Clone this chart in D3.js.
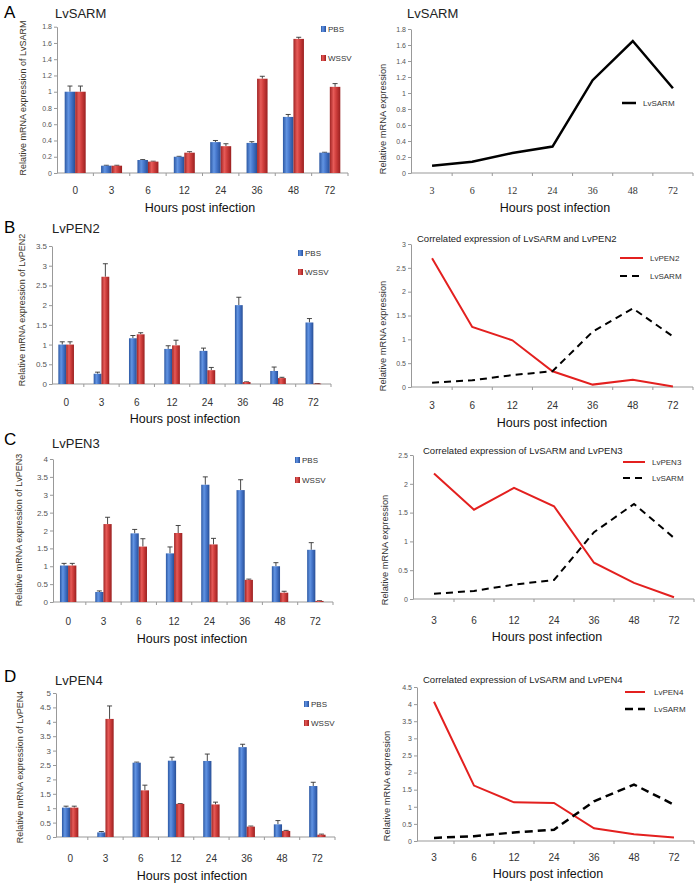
<!DOCTYPE html>
<html>
<head>
<meta charset="utf-8">
<script src="https://cdn.jsdelivr.net/npm/d3@7"></script>
<style>
  html, body { margin: 0; padding: 0; background: #fff; }
  svg { display: block; font-family: "Liberation Sans", Arial, sans-serif; }
</style>
</head>
<body>
<svg id="chart" width="699" height="884"></svg>
<script>
// ---------------- DATA ----------------
const hours = ["0", "3", "6", "12", "24", "36", "48", "72"];
const lineHours = ["3", "6", "12", "24", "36", "48", "72"];

const sarmPBS     = [1.00, 0.09, 0.16, 0.20, 0.38, 0.37, 0.69, 0.25];
const sarmPBSErr  = [0.07, 0.005, 0.005, 0.005, 0.02, 0.015, 0.03, 0.005];
const sarmWSSV    = [1.00, 0.09, 0.14, 0.25, 0.33, 1.16, 1.65, 1.06];
const sarmWSSVErr = [0.07, 0.005, 0.005, 0.012, 0.03, 0.03, 0.02, 0.04];

const pen2PBS     = [1.00, 0.26, 1.16, 0.89, 0.84, 2.00, 0.33, 1.56];
const pen2PBSErr  = [0.07, 0.04, 0.07, 0.08, 0.07, 0.20, 0.10, 0.10];
const pen2WSSV    = [1.00, 2.72, 1.26, 0.98, 0.35, 0.05, 0.15, 0.01];
const pen2WSSVErr = [0.07, 0.33, 0.04, 0.13, 0.07, 0.005, 0.02, 0.003];

const pen3PBS     = [1.02, 0.28, 1.92, 1.36, 3.28, 3.13, 1.00, 1.46];
const pen3PBSErr  = [0.06, 0.03, 0.11, 0.18, 0.22, 0.29, 0.10, 0.20];
const pen3WSSV    = [1.02, 2.18, 1.55, 1.93, 1.61, 0.62, 0.26, 0.03];
const pen3WSSVErr = [0.06, 0.19, 0.22, 0.21, 0.17, 0.02, 0.04, 0.005];

const pen4PBS     = [1.02, 0.16, 2.58, 2.65, 2.64, 3.12, 0.44, 1.77];
const pen4PBSErr  = [0.05, 0.03, 0.02, 0.12, 0.24, 0.10, 0.13, 0.13];
const pen4WSSV    = [1.02, 4.10, 1.62, 1.15, 1.13, 0.36, 0.21, 0.08];
const pen4WSSVErr = [0.05, 0.45, 0.18, 0.01, 0.08, 0.02, 0.02, 0.02];

// line series (infected group from 3 h onwards)
const sarmLine = [0.09, 0.14, 0.25, 0.33, 1.16, 1.65, 1.06];
const pen2Line = [2.70, 1.26, 0.98, 0.33, 0.05, 0.15, 0.01];
const pen3Line = [2.18, 1.55, 1.93, 1.61, 0.63, 0.28, 0.03];
const pen4Line = [4.07, 1.62, 1.13, 1.11, 0.37, 0.20, 0.10];

const ticksSarm = [0, 0.2, 0.4, 0.6, 0.8, 1, 1.2, 1.4, 1.6, 1.8];
const ticks35   = [0, 0.5, 1, 1.5, 2, 2.5, 3, 3.5];
const ticks3    = [0, 0.5, 1, 1.5, 2, 2.5, 3];
const ticks4    = [0, 0.5, 1, 1.5, 2, 2.5, 3, 3.5, 4];
const ticks25   = [0, 0.5, 1, 1.5, 2, 2.5];
const ticks5    = [0, 0.5, 1, 1.5, 2, 2.5, 3, 3.5, 4, 4.5, 5];
const ticks45   = [0, 0.5, 1, 1.5, 2, 2.5, 3, 3.5, 4, 4.5];

const groupNames = ["PBS", "WSSV"];
const xTitle = "Hours post infection";

// ---------------- DRAWING ----------------
const svg = d3.select("#chart");
const defs = svg.append("defs");
function grad(id, stops) {
  const g = defs.append("linearGradient").attr("id", id)
    .attr("x1", 0).attr("x2", 1).attr("y1", 0).attr("y2", 0);
  stops.forEach(s => g.append("stop").attr("offset", s[0]).attr("stop-color", s[1]));
}
grad("gBlue", [[0, "#2c58a3"], [0.35, "#6294e2"], [0.6, "#4677cc"], [1, "#284f96"]]);
grad("gRed",  [[0, "#a02424"], [0.35, "#e65b58"], [0.6, "#cf3e3c"], [1, "#9a2020"]]);

const fmt = v => String(+v.toFixed(1));
const TICK_COL = "#555";
const AXIS_COL = "#999";

function yAxis(g, y, ticks, x, fs) {
  const ax = g.append("g").attr("transform", `translate(${x},0)`)
    .call(d3.axisLeft(y).tickValues(ticks).tickFormat(fmt).tickSize(3).tickSizeOuter(0));
  ax.select(".domain").attr("stroke", AXIS_COL);
  ax.selectAll(".tick line").attr("stroke", AXIS_COL);
  ax.selectAll(".tick text").attr("fill", TICK_COL).attr("font-size", fs)
    .attr("font-family", "Liberation Sans, Arial, sans-serif").attr("x", -5);
}

function xAxis(g, x, cats, axisX, xEnd, y0, labY, fs, family) {
  g.append("line").attr("x1", axisX).attr("x2", xEnd).attr("y1", y0).attr("y2", y0)
    .attr("stroke", AXIS_COL);
  const bounds = cats.slice(1).map(c => x(c));
  bounds.push(x(cats[cats.length - 1]) + x.bandwidth());
  g.selectAll(null).data(bounds).enter().append("line")
    .attr("x1", d => d).attr("x2", d => d).attr("y1", y0).attr("y2", y0 + 3)
    .attr("stroke", AXIS_COL);
  g.selectAll(null).data(cats).enter().append("text")
    .attr("x", d => x(d) + x.bandwidth() / 2).attr("y", labY)
    .attr("text-anchor", "middle").attr("font-size", fs).attr("fill", "#333")
    .attr("font-family", family || "Liberation Sans, Arial, sans-serif")
    .text(d => d);
}

function text(g, x, y, s, fs, opts = {}) {
  const t = g.append("text").attr("x", x).attr("y", y).attr("font-size", fs)
    .attr("fill", opts.fill || "#222").text(s);
  if (opts.anchor) t.attr("text-anchor", opts.anchor);
  if (opts.rotate) t.attr("transform", `rotate(-90,${x},${y})`);
  return t;
}

function barChart(c) {
  const g = svg.append("g");
  const x = d3.scaleBand().domain(hours).range([c.bx0, c.bx1]);
  const y = d3.scaleLinear().domain([0, c.yMax]).range([c.y0, c.yTop]);
  yAxis(g, y, c.ticks, c.axisX, c.tickFs);
  xAxis(g, x, hours, c.axisX, c.bx1, c.y0, c.labY, 10);

  const series = [
    { vals: c.pbs, errs: c.pbsErr, fill: "url(#gBlue)", off: -c.barW },
    { vals: c.wssv, errs: c.wssvErr, fill: "url(#gRed)", off: 0 }
  ];
  series.forEach(s => {
    hours.forEach((h, i) => {
      const cx = x(h) + x.bandwidth() / 2 + c.shift;
      const v = s.vals[i], e = s.errs[i];
      const bx = cx + s.off;
      const ec = bx + c.barW / 2;
      g.append("line").attr("x1", ec).attr("x2", ec).attr("y1", y(v)).attr("y2", y(v + e))
        .attr("stroke", "#333").attr("stroke-width", 0.9);
      g.append("line").attr("x1", ec - 2.5).attr("x2", ec + 2.5).attr("y1", y(v + e)).attr("y2", y(v + e))
        .attr("stroke", "#333").attr("stroke-width", 0.9);
      g.append("rect").attr("x", bx).attr("width", c.barW)
        .attr("y", y(v)).attr("height", Math.max(0.6, y(0) - y(v)))
        .attr("fill", s.fill);
    });
  });

  [[c.legY1, "url(#gBlue)", groupNames[0]], [c.legY2, "url(#gRed)", groupNames[1]]].forEach(l => {
    g.append("rect").attr("x", c.legX).attr("y", l[0] - 3).attr("width", 5).attr("height", 6).attr("fill", l[1]);
    text(g, c.legX + 7, l[0] + 3, l[2], 8, { fill: "#333" });
  });

  text(g, 4, c.letterY, c.letter, 17, { fill: "#000" });
  text(g, c.titleX, c.titleY, c.title, 13, { fill: "#222" });
  text(g, c.ylabX, c.ylabY, c.ylab, 9, { anchor: "middle", rotate: true, fill: "#3a3428" });
  text(g, c.hoursX, c.hoursY, xTitle, 12.5, { anchor: "middle", fill: "#111" });
}

function lineChart(c) {
  const g = svg.append("g");
  const x = d3.scaleBand().domain(lineHours).range([c.bx0, c.bx1]);
  const y = d3.scaleLinear().domain([0, c.yMax]).range([c.y0, c.yTop]);
  yAxis(g, y, c.ticks, c.axisX, 7);
  xAxis(g, x, lineHours, c.axisX, c.bx1, c.y0, c.labY, 10, c.labFamily);

  const line = d3.line()
    .x((d, i) => x(lineHours[i]) + x.bandwidth() / 2)
    .y(d => y(d));
  c.series.forEach(s => {
    const p = g.append("path").datum(s.vals).attr("d", line)
      .attr("fill", "none").attr("stroke", s.color).attr("stroke-width", s.w)
      .attr("stroke-linejoin", "miter");
    if (s.dash) p.attr("stroke-dasharray", s.dash);
    const lg = g.append("line").attr("x1", c.legX).attr("x2", c.legX + c.legW)
      .attr("y1", s.legY).attr("y2", s.legY).attr("stroke", s.color).attr("stroke-width", s.w);
    if (s.dash) lg.attr("stroke-dasharray", s.dash);
    text(g, c.legX + c.legW + c.legGap, s.legY + 3, s.name, 8, { fill: "#333" });
  });

  if (c.title) text(g, c.titleX, c.titleY, c.title, c.titleFs, { fill: "#222" });
  text(g, c.ylabX, c.ylabY, "Relative mRNA expression", 9.3, { anchor: "middle", rotate: true, fill: "#333" });
  text(g, c.hoursX, c.hoursY, xTitle, 12.5, { anchor: "middle", fill: "#111" });
}

// ---- Panel A ----
barChart({
  bx0: 57, bx1: 348, axisX: 57, y0: 173, yTop: 26.7, yMax: 1.8, ticks: ticksSarm, tickFs: 7,
  pbs: sarmPBS, pbsErr: sarmPBSErr, wssv: sarmWSSV, wssvErr: sarmWSSVErr, barW: 10.5, shift: 0,
  labY: 194, legX: 321, legY1: 29, legY2: 58,
  letter: "A", letterY: 18, title: "LvSARM", titleX: 55, titleY: 18,
  ylab: "Relative mRNA expression of LvSARM", ylabX: 26, ylabY: 98,
  hoursX: 200, hoursY: 212
});
lineChart({
  bx0: 412, bx1: 693, axisX: 411, y0: 173, yTop: 29, yMax: 1.8, ticks: ticksSarm,
  labY: 194, labFamily: "Liberation Serif, Times New Roman, serif",
  series: [{ vals: sarmLine, color: "#000", w: 2.5, name: "LvSARM", legY: 103 }],
  legX: 622, legW: 14, legGap: 7,
  title: "LvSARM", titleX: 407, titleY: 18, titleFs: 13,
  ylabX: 386, ylabY: 119, hoursX: 555, hoursY: 212
});

// ---- Panel B ----
barChart({
  bx0: 48.5, bx1: 331, axisX: 52, y0: 384, yTop: 246, yMax: 3.5, ticks: ticks35, tickFs: 8,
  pbs: pen2PBS, pbsErr: pen2PBSErr, wssv: pen2WSSV, wssvErr: pen2WSSVErr, barW: 7.8, shift: 0,
  labY: 406, legX: 298, legY1: 253, legY2: 272,
  letter: "B", letterY: 233, title: "LvPEN2", titleX: 52, titleY: 233,
  ylab: "Relative mRNA expression of LvPEN2", ylabX: 25, ylabY: 310,
  hoursX: 185, hoursY: 423
});
lineChart({
  bx0: 412, bx1: 693, axisX: 411, y0: 387, yTop: 244, yMax: 3, ticks: ticks3,
  labY: 409,
  series: [
    { vals: pen2Line, color: "#e3201f", w: 2, name: "LvPEN2", legY: 258 },
    { vals: sarmLine, color: "#000", w: 2, dash: "7,5", name: "LvSARM", legY: 276 }
  ],
  legX: 620, legW: 23, legGap: 7,
  title: "Correlated expression of LvSARM and LvPEN2", titleX: 417, titleY: 242, titleFs: 9.5,
  ylabX: 386, ylabY: 336, hoursX: 552, hoursY: 427
});

// ---- Panel C ----
barChart({
  bx0: 50.5, bx1: 333, axisX: 53, y0: 602, yTop: 459, yMax: 4, ticks: ticks4, tickFs: 8,
  pbs: pen3PBS, pbsErr: pen3PBSErr, wssv: pen3WSSV, wssvErr: pen3WSSVErr, barW: 8.2, shift: 0,
  labY: 625, legX: 295, legY1: 460, legY2: 480,
  letter: "C", letterY: 445, title: "LvPEN3", titleX: 52, titleY: 448,
  ylab: "Relative mRNA expression of LvPEN3", ylabX: 22, ylabY: 530,
  hoursX: 192, hoursY: 643
});
lineChart({
  bx0: 414, bx1: 694, axisX: 413, y0: 599, yTop: 455, yMax: 2.5, ticks: ticks25,
  labY: 624,
  series: [
    { vals: pen3Line, color: "#e3201f", w: 2, name: "LvPEN3", legY: 462 },
    { vals: sarmLine, color: "#000", w: 2, dash: "7,5", name: "LvSARM", legY: 478 }
  ],
  legX: 623, legW: 22, legGap: 7,
  title: "Correlated expression of LvSARM and LvPEN3", titleX: 423, titleY: 454, titleFs: 9.5,
  ylabX: 388, ylabY: 550, hoursX: 547, hoursY: 641
});

// ---- Panel D ----
barChart({
  bx0: 52.5, bx1: 335, axisX: 56, y0: 837, yTop: 693, yMax: 5, ticks: ticks5, tickFs: 8,
  pbs: pen4PBS, pbsErr: pen4PBSErr, wssv: pen4WSSV, wssvErr: pen4WSSVErr, barW: 8.2, shift: 0,
  labY: 862, legX: 304, legY1: 704, legY2: 723,
  letter: "D", letterY: 682, title: "LvPEN4", titleX: 55, titleY: 685,
  ylab: "Relative mRNA expression of LvPEN4", ylabX: 23, ylabY: 767,
  hoursX: 192, hoursY: 880
});
lineChart({
  bx0: 414, bx1: 694, axisX: 417, y0: 841, yTop: 687, yMax: 4.5, ticks: ticks45,
  labY: 861,
  series: [
    { vals: pen4Line, color: "#e3201f", w: 2, name: "LvPEN4", legY: 692 },
    { vals: sarmLine, color: "#000", w: 2.5, dash: "8,5", name: "LvSARM", legY: 709 }
  ],
  legX: 625, legW: 20, legGap: 9,
  title: "Correlated expression of LvSARM and LvPEN4", titleX: 423, titleY: 683, titleFs: 9.5,
  ylabX: 390, ylabY: 786, hoursX: 548, hoursY: 878
});
</script>
</body>
</html>
